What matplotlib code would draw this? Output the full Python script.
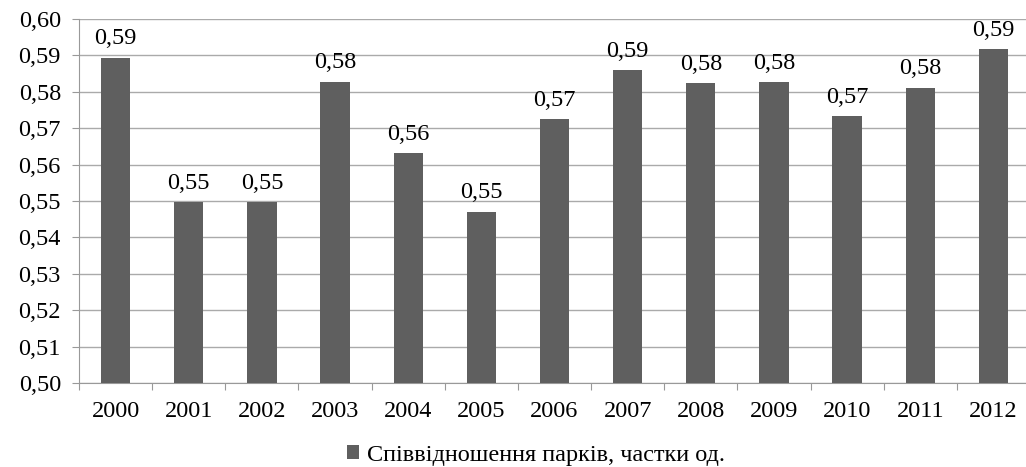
import matplotlib
matplotlib.use("Agg")
import matplotlib.pyplot as plt
import numpy as np

years = ['2000', '2001', '2002', '2003', '2004', '2005', '2006',
         '2007', '2008', '2009', '2010', '2011', '2012']
ratio = [0.5894, 0.5496, 0.5496, 0.5828, 0.5632, 0.5471, 0.5725,
         0.5859, 0.5824, 0.5827, 0.5733, 0.5811, 0.5918]
series_name = 'Співвідношення парків, частки од.'

plt.rcParams['font.family'] = ['Liberation Serif', 'DejaVu Serif']
plt.rcParams['font.size'] = 17.5

fig = plt.figure(figsize=(10.26, 4.67), dpi=100)
ax = fig.add_axes([79 / 1026, 1 - 383 / 467, 951 / 1026, 364 / 467])

x = np.arange(len(years))
bars = ax.bar(x, ratio, width=0.4, color='#5f5f5f', zorder=3, label=series_name)

# підписи над стовпчиками
for xi, v in zip(x, ratio):
    ax.annotate(f'{v:.2f}'.replace('.', ','), (xi, v), xytext=(0, 6),
                textcoords='offset points', ha='center', va='bottom', zorder=4)

ax.set_ylim(0.50, 0.60)
yt = np.round(np.arange(0.50, 0.6001, 0.01), 2)
ax.set_yticks(yt)
ax.set_yticklabels([f'{t:.2f}'.replace('.', ',') for t in yt])
ax.yaxis.grid(True, color='#aaaaaa', linewidth=1, zorder=0)

ax.set_xlim(-0.5, len(years) - 0.5)
ax.set_xticks(np.arange(-0.5, len(years), 1.0))
ax.set_xticklabels([])
ax.set_xticks(x, minor=True)
ax.set_xticklabels(years, minor=True)
ax.tick_params(axis='x', which='major', length=5, color='#999999', direction='out')
ax.tick_params(axis='x', which='minor', length=0, pad=13)
ax.tick_params(axis='y', length=5, color='#999999', pad=8)

for s in ['top', 'right']:
    ax.spines[s].set_visible(False)
for s in ['left', 'bottom']:
    ax.spines[s].set_color('#999999')

fig.legend(handles=[bars], labels=[series_name], loc='center',
           bbox_to_anchor=(536 / 1026, 1 - 455 / 467), frameon=False,
           handlelength=0.5, handleheight=0.5, handletextpad=0.3, fontsize=17.5)

fig.savefig('out.png', dpi=100)
